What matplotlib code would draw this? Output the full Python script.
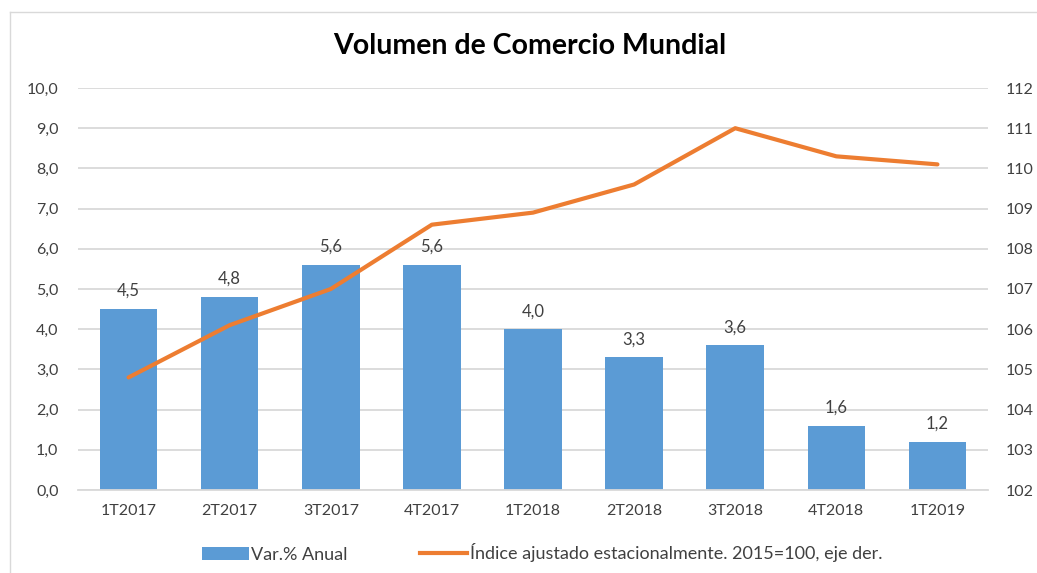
import matplotlib
matplotlib.use("Agg")
import matplotlib.pyplot as plt
from matplotlib.patches import Patch
from matplotlib.lines import Line2D

categories = ["1T2017", "2T2017", "3T2017", "4T2017", "1T2018", "2T2018", "3T2018", "4T2018", "1T2019"]
var_anual = [4.5, 4.8, 5.6, 5.6, 4.0, 3.3, 3.6, 1.6, 1.2]
indice = [104.8, 106.1, 107.0, 108.6, 108.9, 109.6, 111.0, 110.3, 110.1]
left_ticks = [0, 1, 2, 3, 4, 5, 6, 7, 8, 9, 10]
right_ticks = list(range(102, 113))

plt.rcParams['font.family'] = ['Lato', 'DejaVu Sans']
BLUE = "#5B9BD5"
ORANGE = "#ED7D31"
GRID = "#D9D9D9"
TXT = "#404040"

fig = plt.figure(figsize=(10.37, 5.73), dpi=100)
W, H = 1037, 573
ax = fig.add_axes([78 / W, 1 - 490 / H, (988 - 78) / W, (490 - 88) / H])
ax2 = ax.twinx()

x = list(range(len(categories)))
ax.bar(x, var_anual, width=0.57, color=BLUE, zorder=2)
for xi, v in zip(x, var_anual):
    ax.text(xi, v + 0.25, f"{v:.1f}".replace(".", ","), ha="center", va="bottom",
            fontsize=12, color=TXT)

ax.set_ylim(0, 10)
ax.set_yticks(left_ticks)
ax.set_yticklabels([f"{t:.1f}".replace(".", ",") for t in left_ticks])
ax.set_xlim(-0.5, len(categories) - 0.5)
ax.set_xticks(x)
ax.set_xticklabels(categories)
ax.yaxis.grid(True, color=GRID, linewidth=1.3, zorder=0)
ax.set_axisbelow(True)

ax2.plot(x, indice, color=ORANGE, linewidth=3, solid_capstyle="round", zorder=3)
ax2.set_ylim(102, 112)
ax2.set_yticks(right_ticks)

for a in (ax, ax2):
    for s in a.spines.values():
        s.set_visible(False)
    a.tick_params(length=0, labelsize=11.5, colors=TXT)
ax.tick_params(axis="y", pad=14)
ax.tick_params(axis="x", pad=10)
ax2.tick_params(axis="y", pad=13)
ax.spines["bottom"].set_visible(True)
ax.spines["bottom"].set_color(GRID)
ax.spines["bottom"].set_linewidth(1.3)

fig.text(530 / W, 1 - 46 / H, "Volumen de Comercio Mundial", ha="center", va="center",
         fontsize=20.5, fontweight="bold", color="black")

# outer chart border (top and left edges visible)
fig.add_artist(Line2D([10 / W, 10 / W], [0, 1 - 12 / H], transform=fig.transFigure,
                      color=GRID, linewidth=1))
fig.add_artist(Line2D([10 / W, 1], [1 - 12 / H, 1 - 12 / H], transform=fig.transFigure,
                      color=GRID, linewidth=1))

handles = [Patch(facecolor=BLUE, edgecolor="none"),
           Line2D([0], [0], color=ORANGE, linewidth=3)]
labels = ["Var.% Anual", "Índice ajustado estacionalmente. 2015=100, eje der."]
fig.legend(handles, labels, loc="center", bbox_to_anchor=(542 / W, 1 - 553 / H), ncol=2,
           frameon=False, fontsize=13, handlelength=2.6, handleheight=0.7, handletextpad=0.15,
           columnspacing=4.0, labelcolor=TXT)

fig.savefig("out.png", dpi=100)
